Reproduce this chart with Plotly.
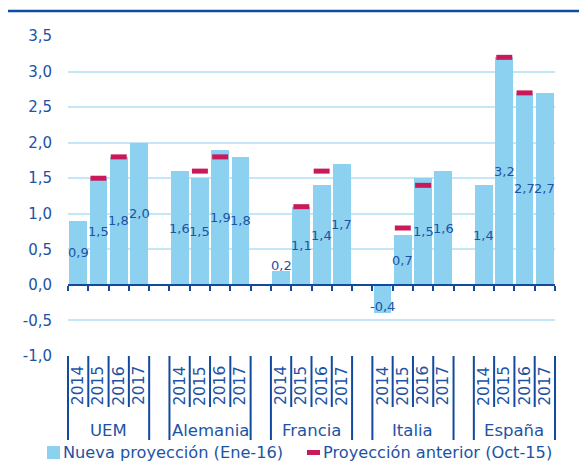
import plotly.graph_objects as go

# ---------------- data ----------------
countries = ["UEM", "Alemania", "Francia", "Italia", "España"]
years = ["2014", "2015", "2016", "2017"]
nueva_proyeccion = [
    0.9, 1.5, 1.8, 2.0,     # UEM
    1.6, 1.5, 1.9, 1.8,     # Alemania
    0.2, 1.1, 1.4, 1.7,     # Francia
    -0.4, 0.7, 1.5, 1.6,    # Italia
    1.4, 3.2, 2.7, 2.7,     # España
]
proyeccion_anterior = [
    None, 1.5, 1.8, None,
    None, 1.6, 1.8, None,
    None, 1.1, 1.6, None,
    None, 0.8, 1.4, None,
    None, 3.2, 2.7, None,
]
y_ticks = [-1.0, -0.5, 0.0, 0.5, 1.0, 1.5, 2.0, 2.5, 3.0, 3.5]
series_names = ["Nueva proyección (Ene-16)", "Proyección anterior (Oct-15)"]

# ---------------- style / layout constants ----------------
W, H = 579, 462
ML, MR, MT, MB = 68, 24, 36, 106
PW, PH = W - ML - MR, H - MT - MB
FONT = "DejaVu Sans"
BLUE_BAR = "#8DD1F1"
RED = "#C9195A"
TXT = "#1D53A4"
AXIS = "#114A9F"
GRID = "#C4E6F7"
SLOTS_PER_GROUP = len(years) + 1
BAR_WIDTH = 0.88
# label positions differing from bar centre (short bars)
label_override = {("Francia", "2014"): 0.27, ("Italia", "2014"): -0.31}


def fmt(v):
    return f"{v:.1f}".replace(".", ",")


def px_x(px):
    return (px - ML) / PW


def px_y(py):
    return (H - MB - py) / PH


pos, keys = [], []
for g, c in enumerate(countries):
    for j, yr in enumerate(years):
        pos.append(g * SLOTS_PER_GROUP + j)
        keys.append((c, yr))
x0, x1 = -0.5, pos[-1] + 0.5
y0, y1 = y_ticks[0], y_ticks[-1]


def dx(x):
    return (x - x0) / (x1 - x0)


fig = go.Figure()
fig.add_trace(go.Bar(
    x=pos, y=nueva_proyeccion, width=BAR_WIDTH, name=series_names[0],
    marker=dict(color=BLUE_BAR, line=dict(width=0)), hoverinfo="y",
))
fig.add_trace(go.Scatter(
    x=pos, y=proyeccion_anterior, mode="markers", name=series_names[1],
    marker=dict(symbol="line-ew", size=11.4, color=RED, line=dict(width=5, color=RED)),
))

annotations = []
# bar value labels
for p, k, v in zip(pos, keys, nueva_proyeccion):
    ly = label_override.get(k, v / 2)
    annotations.append(dict(x=p, y=ly, xref="x", yref="y", text=fmt(v), showarrow=False,
                            font=dict(family=FONT, size=13, color=TXT),
                            xanchor="center", yanchor="middle"))
# year labels
for p, k in zip(pos, keys):
    annotations.append(dict(x=p, y=px_y(386), xref="x", yref="paper", text=k[1], showarrow=False,
                            textangle=-90, font=dict(family=FONT, size=15.5, color=TXT),
                            xanchor="center", yanchor="middle"))
# country labels
for g, c in enumerate(countries):
    annotations.append(dict(x=g * SLOTS_PER_GROUP + (len(years) - 1) / 2, y=px_y(430),
                            xref="x", yref="paper", text=c, showarrow=False,
                            font=dict(family=FONT, size=16.5, color=TXT),
                            xanchor="center", yanchor="middle"))
# legend texts
annotations.append(dict(x=px_x(61), y=px_y(452), xref="paper", yref="paper", text=series_names[0],
                        showarrow=False, font=dict(family=FONT, size=16.2, color=TXT),
                        xanchor="left", yanchor="middle"))
annotations.append(dict(x=px_x(321), y=px_y(452), xref="paper", yref="paper", text=series_names[1],
                        showarrow=False, font=dict(family=FONT, size=16.2, color=TXT),
                        xanchor="left", yanchor="middle"))

shapes = []
# category dividers in the label area
for g in range(len(countries)):
    start = g * SLOTS_PER_GROUP - 0.5
    for k in range(len(years) + 1):
        b = start + k
        outer = k in (0, len(years))
        shapes.append(dict(type="line", xref="paper", yref="paper",
                           x0=dx(b), x1=dx(b), y0=px_y(356), y1=px_y(440 if outer else 407),
                           line=dict(color=AXIS, width=2)))
# legend symbols
shapes.append(dict(type="rect", xref="paper", yref="paper", x0=px_x(47), x1=px_x(60),
                   y0=px_y(459), y1=px_y(446), fillcolor=BLUE_BAR, line=dict(width=0)))
shapes.append(dict(type="rect", xref="paper", yref="paper", x0=px_x(307), x1=px_x(320),
                   y0=px_y(455), y1=px_y(450), fillcolor=RED, line=dict(width=0)))
# header rule
shapes.append(dict(type="line", xref="paper", yref="paper", x0=px_x(8), x1=px_x(579),
                   y0=px_y(11), y1=px_y(11), line=dict(color="#0E4DA2", width=2.5)))

fig.update_layout(
    width=W, height=H, margin=dict(l=ML, r=MR, t=MT, b=MB, pad=0),
    paper_bgcolor="white", plot_bgcolor="white", showlegend=False,
    font=dict(family=FONT, color=TXT),
    xaxis=dict(range=[x0, x1], anchor="free", position=(0 - y0) / (y1 - y0),
               showline=True, linecolor=AXIS, linewidth=2,
               ticks="outside", tickvals=[x0 + i for i in range(int(x1 - x0) + 1)],
               ticklen=5, tickwidth=2, tickcolor=AXIS,
               showticklabels=False, showgrid=False, zeroline=False, fixedrange=True),
    yaxis=dict(range=[y0, y1], tickvals=y_ticks, ticktext=[fmt(v) for v in y_ticks],
               tickfont=dict(family=FONT, size=15, color=TXT),
               ticks="outside", ticklen=12, tickcolor="rgba(0,0,0,0)",
               showgrid=True, gridcolor=GRID, gridwidth=1.5,
               zeroline=False, showline=False, fixedrange=True),
    annotations=annotations, shapes=shapes, bargap=0,
)

fig.write_html("out.html")
